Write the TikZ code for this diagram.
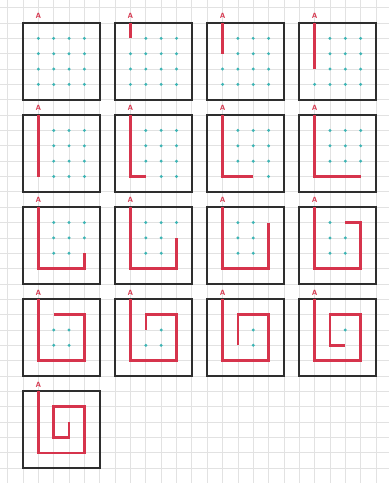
\documentclass[tikz,border=0pt]{standalone}
\usepackage{xcolor}
\usepackage{tikz}
\definecolor{GridGray}{HTML}{E2E2E2}
\definecolor{BoxDark}{HTML}{2E2E2E}
\definecolor{TrailRed}{HTML}{D6344C}
\definecolor{DotCyan}{HTML}{3CB4B4}

\begin{document}
\begin{tikzpicture}[x=0.5cm, y=-0.5cm,
    gridline/.style={GridGray, line width=0.7pt},
    frame/.style={BoxDark, line width=1.7pt},
    trail/.style={TrailRed, line width=2.3pt, line join=miter},
    gridpt/.style={fill=DotCyan},
    startlabel/.style={color=TrailRed, font=\sffamily\bfseries\scriptsize, inner sep=0pt}]
  \useasboundingbox (0,0) rectangle (25.34,31.47);
  \fill[white] (0,0) rectangle (25.34,31.47);
  \foreach \k in {0,...,24} {\draw[gridline] (0.5+\k,0) -- (0.5+\k,31.47);}
  \foreach \k in {0,...,30} {\draw[gridline] (0,0.5+\k) -- (25.34,0.5+\k);}
  % the spiral, dot by dot
  \def\px{{1,1,1,1,1,2,3,4,4,4,4,3,2,2,2,3,3}}
  \def\py{{0,1,2,3,4,4,4,4,3,2,1,1,1,2,3,3,2}}
  \foreach \n in {0,...,16} {
    \pgfmathtruncatemacro\col{mod(\n,4)}
    \pgfmathtruncatemacro\row{div(\n,4)}
    \begin{scope}[shift={(1.5+6*\col,1.5+6*\row)}]
      \draw[frame] (0,0) rectangle (5,5);
      \foreach \i in {1,...,16} {
        \ifnum\i>\n \fill[gridpt] ({\px[\i]},{\py[\i]}) circle (1.5pt); \fi
      }
      \ifnum\n>0
        \draw[trail] (1,0) \foreach \i in {1,...,\n} { -- ({\px[\i]},{\py[\i]}) };
      \fi
      \node[startlabel] (start\n) at (1,-0.45) {A};
    \end{scope}
  }
\end{tikzpicture}
\end{document}
